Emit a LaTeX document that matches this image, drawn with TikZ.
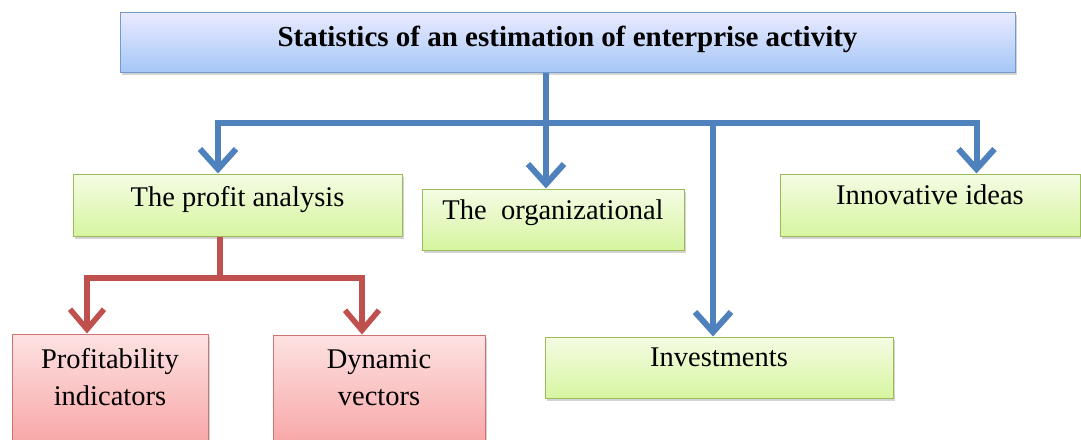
\documentclass[tikz,border=0pt]{standalone}
\usepackage{fontspec}
\setmainfont{Liberation Serif}
\usetikzlibrary{arrows.meta,shadows}
\definecolor{bluel}{HTML}{4F81BD}
\definecolor{redl}{HTML}{C0504D}
\definecolor{greenb}{HTML}{9BBB59}
\tikzset{
  boxbase/.style={rectangle, draw, line width=1pt, inner sep=0pt, align=center,
    drop shadow={shadow xshift=2pt, shadow yshift=-3pt, opacity=.35}},
  titlebox/.style={boxbase, draw=bluel!80, top color=blue!8!white, bottom color={rgb,255:red,166;green,199;blue,247},
    font=\fontsize{29}{33}\selectfont\bfseries},
  greenbox/.style={boxbase, draw=greenb, top color={rgb,255:red,245;green,252;blue,228}, bottom color={rgb,255:red,214;green,245;blue,160},
    font=\fontsize{28.5}{32}\selectfont},
  redbox/.style={boxbase, draw=redl!80, top color={rgb,255:red,253;green,226;blue,226}, bottom color={rgb,255:red,248;green,165;blue,165},
    font=\fontsize{28.5}{37}\selectfont},
  bline/.style={draw=bluel, line width=6pt},
  barrow/.style={bline, -{Straight Barb[length=20pt,width=36pt]}},
  rline/.style={draw=redl, line width=5.5pt},
  rarrow/.style={rline, -{Straight Barb[length=20pt,width=34pt]}},
}
\begin{document}
\begin{tikzpicture}[x=1pt,y=-1pt]
\useasboundingbox (0,0) rectangle (1081,439);
\node[titlebox, minimum width=895pt, minimum height=60pt, text depth=12pt] (title) at (567.5,42) {Statistics of an estimation of enterprise activity};
\node[greenbox, minimum width=329pt, minimum height=62pt, text depth=18pt] (profit) at (237.5,205) {The profit analysis};
\node[greenbox, minimum width=262pt, minimum height=61pt, text depth=20pt] (org) at (553,219.5) {The\ \ organizational};
\node[greenbox, minimum width=300pt, minimum height=62pt, text depth=20pt] (innov) at (930,205) {Innovative ideas};
\node[greenbox, minimum width=348pt, minimum height=61pt, text depth=20pt] (invest) at (719,367.5) {Investments};
\node[redbox, minimum width=196pt, minimum height=112pt, text depth=26pt] (prof) at (110,390) {Profitability\\indicators};
\node[redbox, minimum width=212pt, minimum height=112pt, text depth=26pt] (dyn) at (379,391) {Dynamic\\vectors};
\coordinate (hub) at (546,123);
\coordinate (rhub) at (220,278);
\draw[bline] (title.south -| hub) -- (hub);
\draw[barrow] (hub) -| ([xshift=-19.5pt]profit.north);
\draw[barrow] (hub) -| ([xshift=46.5pt]innov.north);
\draw[barrow] (hub) -- (hub |- org.north);
\draw[barrow] (hub -| invest.north) ++(-6,0) coordinate (ihub) -- (ihub |- invest.north);
\draw[rline] (profit.south -| rhub) -- (rhub);
\draw[rarrow] (rhub) -| ([xshift=-23pt]prof.north);
\draw[rarrow] (rhub) -| ([xshift=-17pt]dyn.north);
\end{tikzpicture}
\end{document}
